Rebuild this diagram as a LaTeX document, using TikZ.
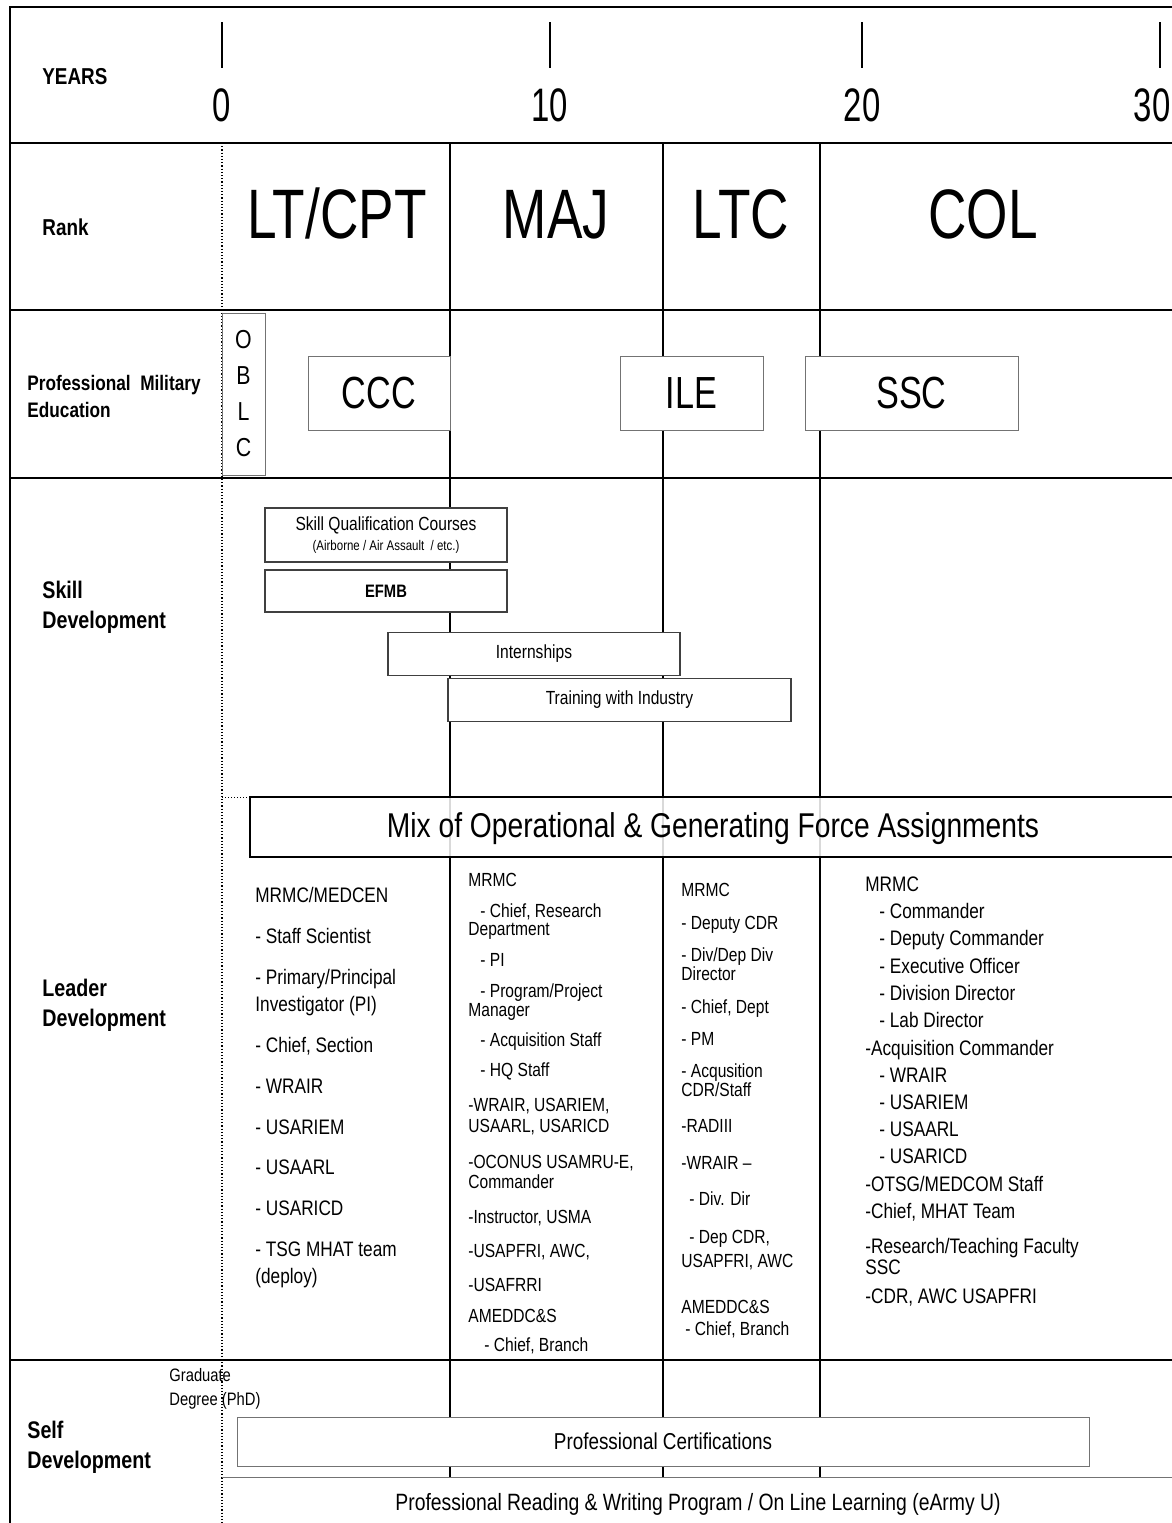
\documentclass[tikz,border=0pt]{standalone}
\usepackage{fontspec}
\setmainfont{Liberation Sans}[FakeStretch=0.82]
\newfontfamily\yearfont{Liberation Sans}[FakeStretch=0.70]
\newfontfamily\rankfont{Liberation Sans}[FakeStretch=0.76]
\usetikzlibrary{positioning}

\newcommand\ldbig{\fontsize{10.5}{12}\selectfont}
\newcommand\ldsmall{\fontsize{9.5}{11}\selectfont}

\tikzset{
  gridline/.style={line width=0.9pt},
  colline/.style={line width=0.75pt},
  rowlab/.style={anchor=west, align=left, inner sep=0pt, font=\bfseries\fontsize{12}{15}\selectfont},
  yearlab/.style={anchor=base, inner sep=0pt, font=\yearfont\fontsize{23.5}{26}\selectfont},
  ranklab/.style={anchor=base, inner sep=0pt, font=\rankfont\fontsize{35}{38}\selectfont},
  pmebox/.style={draw=black!55, line width=0.5pt, fill=white, inner sep=0pt, font=\rankfont\fontsize{22.5}{25}\selectfont},
  skillbox/.style={draw=black!75, line width=0.6pt, fill=white, inner sep=0pt, align=center, font=\fontsize{9.5}{11}\selectfont},
  ld/.style={anchor=mid west, inner sep=0pt}
}

\begin{document}
\begin{tikzpicture}[x=0.5pt, y=-0.5pt]
  % 畫布範圍
  \useasboundingbox (0,0) rectangle (1172,1523);
  \clip (0,0) rectangle (1172,1523);

  % 外框與橫向分隔
  \draw[gridline] (1190,7) -- (10,7) -- (10,1540);
  \foreach \y in {143,310,478,1360} \draw[gridline] (10,\y) -- (1190,\y);

  % 年份刻度
  \foreach \x/\lx/\yr in {222/222/0,550/550/10,862/862/20,1160/1152/30} {
    \draw[colline] (\x,22) -- (\x,68);
    \node[yearlab] (yr\yr) at (\lx,121) {\yr};
  }

  % 軍階分隔線
  \foreach \x in {450,663,820} \draw[colline] (\x,143) -- (\x,1477);
  \draw[densely dotted, line width=0.6pt] (222,143) -- (222,1540);

  % 左欄標題
  \node[rowlab, font=\bfseries\fontsize{11.5}{14}\selectfont] (years) at (42,77) {YEARS};
  \node[rowlab, font=\bfseries\fontsize{11.5}{14}\selectfont] (rank) at (42,227) {Rank};
  \node[rowlab, font=\bfseries\fontsize{10.5}{13.5}\selectfont] (pme) at (27,396) {Professional\ \ Military\\Education};
  \node[rowlab] (skill) at (42,607) {Skill\\Development};
  \node[rowlab] (leader) at (42,1005) {Leader\\Development};
  \node[rowlab] (self) at (27,1447) {Self\\Development};

  % 軍階
  \node[ranklab] (ltcpt) at (337,238) {LT/CPT};
  \node[ranklab] (maj) at (556,238) {MAJ};
  \node[ranklab] (ltc) at (741,238) {LTC};
  \node[ranklab] (col) at (983,238) {COL};

  % 軍事教育
  \node[pmebox, minimum width=21.5pt, minimum height=81pt, align=center,
        font=\fontsize{13}{18}\selectfont] (oblc) at (243.5,394) {O\\B\\L\\C};
  \node[pmebox, minimum width=71pt, minimum height=37pt] (ccc) at (379,393) {CCC};
  \node[pmebox, minimum width=71.5pt, minimum height=37pt] (ile) at (691.5,393) {ILE};
  \node[pmebox, minimum width=106.5pt, minimum height=37pt] (ssc) at (911.5,393) {SSC};

  % 技能發展
  \node[skillbox, minimum width=121pt, minimum height=27pt] (sqc) at (386,535)
    {Skill Qualification Courses\\[-1pt]{\fontsize{7}{8}\selectfont (Airborne / Air Assault \ / etc.)}};
  \node[skillbox, minimum width=121pt, minimum height=21pt, font=\bfseries\fontsize{9}{11}\selectfont] (efmb) at (386,591) {EFMB};
  \node[skillbox, minimum width=146pt, minimum height=21.5pt] (intern) at (534,654) {Internships};
  \node[skillbox, minimum width=171.5pt, minimum height=21.5pt] (twi) at (619.5,700) {Training with Industry};

  % 任務組合
  \draw[line width=1pt, fill=white, fill opacity=0.85] (250,797) rectangle (1190,857);
  \draw[densely dotted, line width=0.5pt] (222,797) -- (250,797);
  \node[inner sep=0pt, font=\fontsize{17.2}{20}\selectfont] (mix) at (713,829) {Mix of Operational \& Generating Force Assignments};

  % 領導發展:LT/CPT
  \foreach \y/\x/\txt [count=\i] in {
    897/255/{MRMC/MEDCEN}, 938/255/{- Staff Scientist}, 979/255/{- Primary/Principal},
    1006/255/{Investigator (PI)}, 1047/255/{- Chief, Section}, 1088/255/{- WRAIR},
    1129/255/{- USARIEM}, 1169/255/{- USAARL}, 1210/255/{- USARICD},
    1251/255/{- TSG MHAT team}, 1278/255/{(deploy)}}
    \node[ld, font=\ldbig] (cpt\i) at (\x,\y) {\txt};

  % MAJ
  \foreach \y/\x/\txt [count=\i] in {
    881/468/{MRMC}, 912/480/{- Chief, Research}, 930/468/{Department},
    961/480/{- PI}, 992/480/{- Program/Project}, 1011/468/{Manager},
    1041/480/{- Acquisition Staff}, 1071/480/{- HQ Staff}, 1106/468/{-WRAIR, USARIEM,},
    1127/468/{USAARL, USARICD}, 1163/468/{-OCONUS USAMRU-E,}, 1183/468/{Commander},
    1218/468/{-Instructor, USMA}, 1252/468/{-USAPFRI, AWC,}, 1286/468/{-USAFRRI},
    1317/468/{AMEDDC\&S}, 1346/484/{- Chief, Branch}}
    \node[ld, font=\ldsmall] (maj\i) at (\x,\y) {\txt};

  % LTC
  \foreach \y/\x/\txt [count=\i] in {
    891/681/{MRMC}, 924/681/{- Deputy CDR}, 956/681/{- Div/Dep Div},
    975/681/{Director}, 1008/681/{- Chief, Dept}, 1040/681/{- PM},
    1072/681/{- Acqusition}, 1091/681/{CDR/Staff}, 1127/681/{-RADIII},
    1164/681/{-WRAIR \textendash}, 1200/689/{- Div. Dir}, 1238/689/{- Dep CDR,},
    1262/681/{USAPFRI, AWC}, 1308/681/{AMEDDC\&S}, 1330/685/{- Chief, Branch}}
    \node[ld, font=\ldsmall] (ltc\i) at (\x,\y) {\txt};

  % COL
  \foreach \y/\x/\txt [count=\i] in {
    886/865/{MRMC}, 913/879/{- Commander}, 940/879/{- Deputy Commander},
    968/879/{- Executive Officer}, 995/879/{- Division Director}, 1022/879/{- Lab Director},
    1050/865/{-Acquisition Commander}, 1077/879/{- WRAIR}, 1104/879/{- USARIEM},
    1131/879/{- USAARL}, 1158/879/{- USARICD}, 1186/865/{-OTSG/MEDCOM Staff},
    1213/865/{-Chief, MHAT Team}, 1248/865/{-Research/Teaching Faculty}, 1269/865/{SSC},
    1298/865/{-CDR, AWC USAPFRI}}
    \node[ld, font=\ldbig] (col\i) at (\x,\y) {\txt};

  % 自我發展
  \node[anchor=west, align=left, inner sep=0pt, font=\fontsize{9}{12}\selectfont] (grad) at (169,1389) {Graduate\\Degree (PhD)};
  \node[draw=black!55, line width=0.5pt, fill=white, inner sep=0pt, minimum width=426pt, minimum height=24.5pt,
        font=\fontsize{11.5}{14}\selectfont] (cert) at (663,1441.5) {Professional Certifications};
  \draw[draw=black!55, line width=0.5pt] (222,1477) -- (1190,1477);
  \node[inner sep=0pt, font=\fontsize{11.8}{14}\selectfont] (prw) at (698,1504) {Professional Reading \& Writing Program / On Line Learning (eArmy U)};
\end{tikzpicture}
\end{document}
